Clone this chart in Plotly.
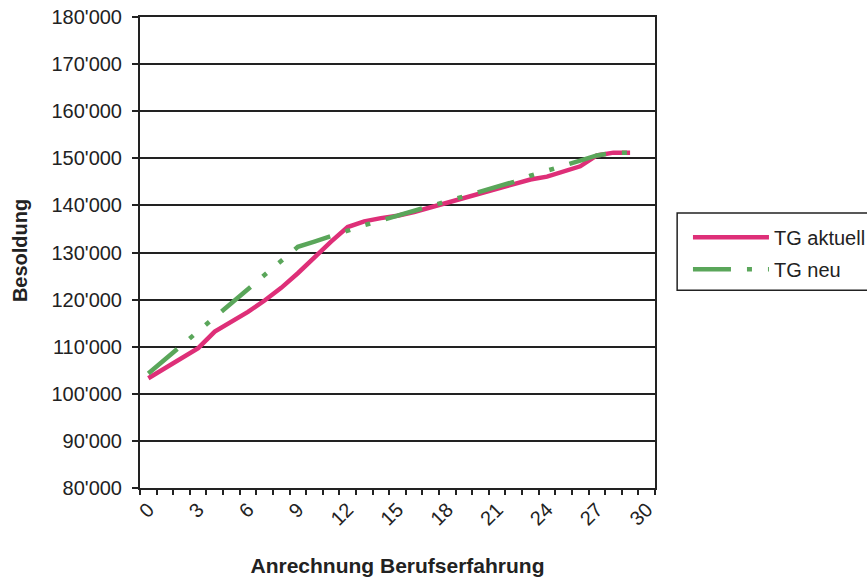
import plotly.graph_objects as go

years = list(range(0, 30))
tg_aktuell = [103300, 105500, 107500, 109700, 113200, 115300, 117400, 119800, 122500, 125600,
              129000, 132300, 135400, 136600, 137300, 137800, 138600, 139600, 140500, 141600,
              142600, 143600, 144600, 145500, 146100, 147100, 148300, 150600, 151200, 151200]
tg_neu = [104300, 107300, 110300, 113300, 116300, 119200, 122200, 125300, 128200, 131200,
          132300, 133500, 134700, 135800, 136800, 137800, 138800, 140000, 141000, 142000,
          143000, 144000, 145000, 146300, 147300, 148300, 149500, 150600, 151200, 151200]

y_ticks = [80000, 90000, 100000, 110000, 120000, 130000, 140000, 150000, 160000, 170000, 180000]
y_labels = ["80'000", "90'000", "100'000", "110'000", "120'000", "130'000",
            "140'000", "150'000", "160'000", "170'000", "180'000"]
x_ticks = [0, 3, 6, 9, 12, 15, 18, 21, 24, 27, 30]
x_labels = [str(v) for v in x_ticks]

RED = "#DE2F78"
GREEN = "#5AA65A"
FONT = "Liberation Sans, Arial, sans-serif"
TXT = "#222222"

fig = go.Figure()
fig.add_trace(go.Scatter(x=years, y=tg_aktuell, mode="lines", name="TG aktuell",
                         legendgroup="a",
                         line=dict(color=RED, width=4.5)))
fig.add_trace(go.Scatter(x=years, y=tg_neu, mode="lines", name="TG neu",
                         legendgroup="b",
                         line=dict(color=GREEN, width=4.5,
                                   dash="38px,16px,5px,16px,5px,16px")))

fig.update_layout(
    width=867, height=582,
    margin=dict(l=140, r=212, t=17, b=94, autoexpand=False),
    paper_bgcolor="white", plot_bgcolor="white",
    font=dict(family=FONT, size=20, color=TXT),
    showlegend=True,
    legend=dict(x=1.064, y=0.574, xanchor="left", yanchor="top",
                font=dict(size=20, color=TXT),
                bgcolor="rgba(0,0,0,0)", borderwidth=0,
                tracegroupgap=3, itemwidth=76),
    shapes=[dict(type="rect", xref="paper", yref="paper",
                 x0=1.043, x1=1.6, y0=0.42, y1=0.584,
                 line=dict(color=TXT, width=1.5))],
    annotations=[dict(text="<b>Besoldung</b>", xref="paper", yref="paper",
                      x=-0.233, y=0.503, textangle=-90, showarrow=False,
                      xanchor="center", yanchor="middle",
                      font=dict(size=20, color=TXT))],
)

fig.update_xaxes(
    range=[-0.5, 30.5], automargin=False,
    tickmode="array", tickvals=x_ticks, ticktext=x_labels, tickangle=-45,
    ticks="", showgrid=False, zeroline=False,
    showline=True, linecolor=TXT, linewidth=2, mirror=True,
    minor=dict(tickmode="linear", tick0=-0.5, dtick=1, ticks="outside",
               ticklen=5, tickcolor=TXT, tickwidth=1.5, showgrid=False),
    tickfont=dict(size=20, color=TXT),
    title=dict(text="<b>Anrechnung Berufserfahrung</b>", font=dict(size=21, color=TXT),
               standoff=30),
)
fig.update_yaxes(
    range=[80000, 180000], automargin=False,
    tickmode="array", tickvals=y_ticks, ticktext=y_labels,
    ticks="outside", ticklen=6, tickcolor=TXT, tickwidth=1.5,
    showgrid=True, gridcolor=TXT, gridwidth=1.5, zeroline=False,
    showline=True, linecolor=TXT, linewidth=2, mirror=True,
    tickfont=dict(size=20, color=TXT),
    ticklabelstandoff=6, ticklabeloverflow="allow",
)

fig.write_html("out.html", config={"displayModeBar": False},
               post_script="document.body.style.margin='0px';")
